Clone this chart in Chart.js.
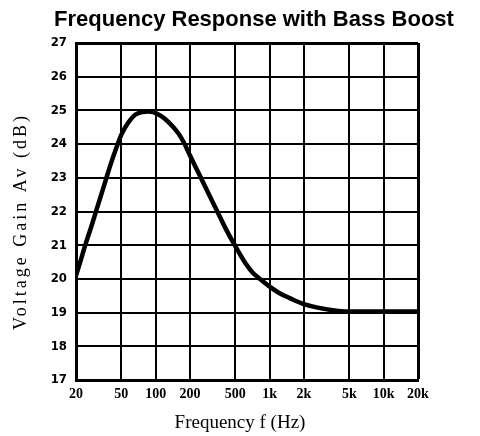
<!DOCTYPE html>
<html><head><meta charset="utf-8">
<script src="https://cdn.jsdelivr.net/npm/chart.js@4/dist/chart.umd.min.js"></script>
<style>html,body{margin:0;padding:0;background:#fff;}canvas{display:block;}</style>
</head><body>
<canvas id="c" width="480" height="436"></canvas>
<script>
const titleText = 'Frequency Response with Bass Boost';
const xAxisTitle = 'Frequency f (Hz)';
const yAxisTitle = 'Voltage Gain Av (dB)';

const frequencies = [20, 22, 24, 27, 30, 33, 36.6, 40, 45.6, 50, 57.5, 66, 76, 86, 95, 112, 129, 158, 177, 200, 245, 290, 343, 410, 500, 620, 720, 822, 1000, 1200, 1500, 2000, 3000, 4000, 5000, 10000, 20000];
const gainDb      = [20.1, 20.55, 20.98, 21.51, 22.01, 22.46, 22.95, 23.37, 23.93, 24.28, 24.64, 24.87, 24.95, 24.97, 24.95, 24.83, 24.66, 24.32, 24.04, 23.66, 23.05, 22.54, 22.04, 21.5, 20.97, 20.44, 20.16, 20.0, 19.77, 19.59, 19.43, 19.25, 19.11, 19.05, 19.03, 19.03, 19.03];

const xTickValues = [20, 50, 100, 200, 500, 1000, 2000, 5000, 10000, 20000];
const xTickLabels = ['20', '50', '100', '200', '500', '1k', '2k', '5k', '10k', '20k'];
const yTickMin = 17, yTickMax = 27, yTickStep = 1;

const points = frequencies.map((f, i) => ({ x: f, y: gainDb[i] }));

const titleShift = {
  id: 'titleShift',
  afterLayout(chart) {
    const t = chart.titleBlock;
    const ca = chart.chartArea;
    if (t && ca) {
      const shift = (ca.left + ca.right) / 2 + 7 - (t.left + t.right) / 2;
      t.left += shift; t.right += shift;
    }
  }
};

function wrapTitle(scale, dx, dy, spacing) {
  if (!scale || scale._titleWrapped) return;
  const orig = scale.drawTitle.bind(scale);
  scale.drawTitle = function () {
    const ctx = scale.ctx;
    ctx.save();
    ctx.translate(dx, dy);
    if ('letterSpacing' in ctx) ctx.letterSpacing = spacing;
    orig();
    ctx.restore();
  };
  scale._titleWrapped = true;
}

const axisTitleTweak = {
  id: 'axisTitleTweak',
  beforeDraw(chart) {
    wrapTitle(chart.scales.y, 0, 10, '3px');
    wrapTitle(chart.scales.x, -7, 0, '0px');
  }
};

new Chart(document.getElementById('c'), {
  type: 'line',
  data: {
    datasets: [{
      data: points,
      borderColor: '#000',
      borderWidth: 4.5,
      pointRadius: 0,
      cubicInterpolationMode: 'monotone',
      borderCapStyle: 'round',
      borderJoinStyle: 'round',
      fill: false
    }]
  },
  options: {
    responsive: false,
    animation: false,
    devicePixelRatio: 1,
    layout: { padding: { left: 0, right: 62, top: 0, bottom: 0 } },
    plugins: {
      legend: { display: false },
      tooltip: { enabled: false },
      title: {
        display: true,
        text: titleText,
        color: '#000',
        font: { family: 'Liberation Sans', weight: 'bold', size: 22, lineHeight: 1.2 },
        padding: { top: 7, bottom: 9.6 }
      }
    },
    scales: {
      x: {
        type: 'logarithmic',
        position: 'bottom',
        min: 20,
        max: 20000,
        afterBuildTicks(scale) { scale.ticks = xTickValues.map(v => ({ value: v })); },
        afterFit(scale) { scale.height = 56; },
        ticks: {
          autoSkip: false,
          maxRotation: 0,
          color: '#000',
          padding: 6,
          font: { family: 'Liberation Serif', weight: 'bold', size: 14 },
          callback: (v) => { const i = xTickValues.indexOf(v); return i >= 0 ? xTickLabels[i] : ''; }
        },
        grid: {
          color: '#000',
          lineWidth: (ctx) => (ctx.index === xTickValues.length - 1 ? 3 : 2),
          drawTicks: false
        },
        border: { color: '#000', width: 3 },
        title: {
          display: true,
          text: xAxisTitle,
          color: '#000',
          font: { family: 'Liberation Serif', size: 19, lineHeight: 1.2 },
          padding: { top: 0, bottom: 2 }
        }
      },
      y: {
        type: 'linear',
        position: 'left',
        min: yTickMin,
        max: yTickMax,
        afterFit(scale) { scale.width = 76; },
        ticks: {
          stepSize: yTickStep,
          color: '#000',
          padding: 9,
          font: { family: "'Liberation Sans Narrow', 'Arial Narrow', 'DejaVu Sans Condensed', 'Liberation Sans'", weight: 'bold', size: 13 }
        },
        grid: {
          color: '#000',
          lineWidth: (ctx) => (ctx.tick && ctx.tick.value === yTickMax ? 3 : 2),
          drawTicks: false
        },
        border: { color: '#000', width: 3 },
        title: {
          display: true,
          text: yAxisTitle,
          color: '#000',
          font: { family: 'Liberation Serif', size: 18, lineHeight: 1.2 },
          padding: { top: 10, bottom: 0 }
        }
      }
    }
  },
  plugins: [titleShift, axisTitleTweak]
});
</script>
</body></html>
